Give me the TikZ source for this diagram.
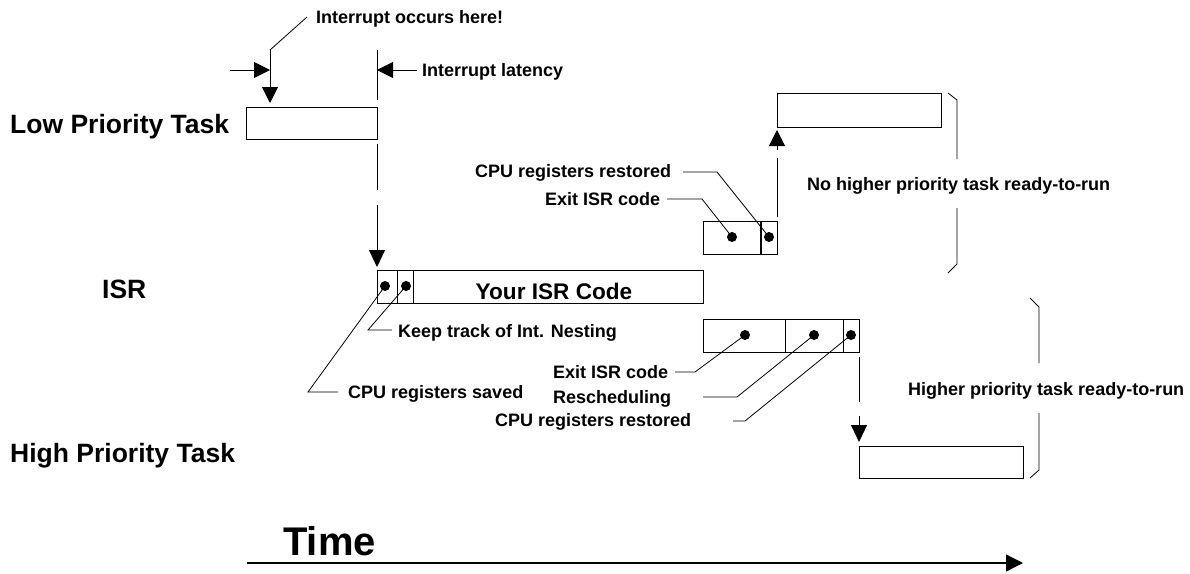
\documentclass[tikz,border=0pt]{standalone}
\usepackage{fontspec}
\setmainfont{Liberation Sans}
\usetikzlibrary{arrows.meta}
\begin{document}
\begin{tikzpicture}[x=1pt,y=-1pt,
  box/.style={draw, line width=1pt, rectangle, inner sep=0pt, anchor=north west},
  dot/.style={circle, fill, inner sep=0pt, minimum size=10pt},
  lbl/.style={anchor=base west, inner sep=0pt, font=\fontsize{18}{20}\selectfont\bfseries},
  big/.style={anchor=base west, inner sep=0pt, font=\fontsize{26.5}{30}\selectfont\bfseries},
  lead/.style={line width=0.8pt},
  ln/.style={line width=1pt},
  arr/.style={-{Triangle[length=16pt,width=16pt]}, line width=1pt}]
\useasboundingbox (0,0) rectangle (1190,573);

% ---------- boxes ----------
\node[box, minimum width=131pt, minimum height=32pt] (low) at (246,107) {};
\node[box, minimum width=326pt, minimum height=33pt] (isr) at (377,270) {};
\node[box, minimum width=74pt, minimum height=33pt] (exitA) at (703,221) {};
\node[box, minimum width=164pt, minimum height=34pt] (lowres) at (777,93) {};
\node[box, minimum width=156pt, minimum height=33pt] (exitB) at (703,319) {};
\node[box, minimum width=164pt, minimum height=32pt] (high) at (859,446) {};

% dividers
\draw[ln] (397,270) -- (397,303);
\draw[ln] (413,270) -- (413,303);
\draw[line width=2pt] (761,221) -- (761,254);
\draw[ln] (785,319) -- (785,352);
\draw[ln] (843,319) -- (843,352);

% ---------- dots ----------
\node[dot] (d1) at (385,286) {};
\node[dot] (d2) at (406,286) {};
\node[dot] (d3) at (732,237) {};
\node[dot] (d4) at (769,237) {};
\node[dot] (d5) at (745,335) {};
\node[dot] (d6) at (814,335) {};
\node[dot] (d7) at (851,335) {};

% ---------- big labels ----------
\node[big] (tlow) at (10,133) {Low Priority Task};
\node[big] (tisr) at (102,298) {ISR};
\node[big] (thigh) at (10,462) {High Priority Task};
\node[anchor=base, inner sep=0pt, font=\fontsize{22.6}{26}\selectfont\bfseries] (code) at (554,299) {Your ISR Code};
\node[anchor=base west, inner sep=0pt, font=\fontsize{40}{44}\selectfont\bfseries] (ttime) at (283,555) {Time};

% ---------- small labels ----------
\node[lbl] (occ) at (316,23) {Interrupt occurs here!};
\node[lbl] (lat) at (422,76) {Interrupt latency};
\node[lbl] (keep) at (398,337.5) {Keep track of Int. Nesting};
\node[lbl] (saved) at (348,398.5) {CPU registers saved};
\node[lbl] (restA) at (475,177) {CPU registers restored};
\node[lbl] (exA) at (545,205.5) {Exit ISR code};
\node[lbl] (nohi) at (807,190.5) {No higher priority task ready-to-run};
\node[lbl] (exB) at (553,378.5) {Exit ISR code};
\node[lbl] (resch) at (553,403) {Rescheduling};
\node[lbl] (restB) at (495,426.5) {CPU registers restored};
\node[lbl] (hi) at (908,395.5) {Higher priority task ready-to-run};

% ---------- interrupt arrows ----------
\coordinate (occS) at (307,17);
\coordinate (occK) at (270,50);
\coordinate (occT) at (270,103);
\draw[lead] (occS) -- (occK);
\draw[arr] (occK) -- (occT);
\coordinate (inL) at (230,70);
\coordinate (inR) at (270,70);
\draw[arr] (inL) -- (inR);
\coordinate (latT) at (377,50);
\coordinate (latB) at (377,100);
\draw[ln] (latT) -- (latB);
\coordinate (latS) at (417,70);
\coordinate (latE) at (377,70);
\draw[arr] (latS) -- (latE);

% ---------- flow lines ----------
\coordinate (f1a) at (377,144);
\coordinate (f1b) at (377,190);
\coordinate (f1c) at (377,205);
\coordinate (f1d) at (377,267);
\draw[ln] (f1a) -- (f1b);
\draw[arr,-{Triangle[length=17pt,width=16pt]}] (f1c) -- (f1d);

\coordinate (f2a) at (777,217);
\coordinate (f2b) at (777,158);
\coordinate (f2c) at (777,150);
\coordinate (f2d) at (777,130);
\draw[ln] (f2a) -- (f2b);
\draw[arr] (f2c) -- (f2d);

\coordinate (f3a) at (859,357);
\coordinate (f3b) at (859,402);
\coordinate (f3c) at (859,416);
\coordinate (f3d) at (859,442);
\draw[ln] (f3a) -- (f3b);
\draw[arr,-{Triangle[length=17pt,width=16pt]}] (f3c) -- (f3d);

% ---------- time axis ----------
\coordinate (tS) at (247,563);
\coordinate (tE) at (1023,563);
\draw[line width=1.2pt,-{Triangle[length=17pt,width=17pt]}] (tS) -- (tE);

% ---------- leaders ----------
\coordinate (l1a) at (338,392); \coordinate (l1b) at (308,392);
\draw[lead] (l1a) -- (l1b) -- (d1.center);
\coordinate (l2a) at (392,330); \coordinate (l2b) at (368,330);
\draw[lead] (l2a) -- (l2b) -- (d2.center);
\coordinate (l3a) at (683,172); \coordinate (l3b) at (717,172);
\draw[lead] (l3a) -- (l3b) -- (d4.center);
\coordinate (l4a) at (667,199); \coordinate (l4b) at (702,199);
\draw[lead] (l4a) -- (l4b) -- (d3.center);
\coordinate (l5a) at (675,372); \coordinate (l5b) at (695,372);
\draw[lead] (l5a) -- (l5b) -- (d5.center);
\coordinate (l6a) at (703,397); \coordinate (l6b) at (737,397);
\draw[lead] (l6a) -- (l6b) -- (d6.center);
\coordinate (l7a) at (733,421); \coordinate (l7b) at (745,421);
\draw[lead] (l7a) -- (l7b) -- (d7.center);

% ---------- brackets ----------
\coordinate (b1a) at (948,93); \coordinate (b1b) at (957,100); \coordinate (b1c) at (957,159);
\coordinate (b1d) at (957,208); \coordinate (b1e) at (957,264); \coordinate (b1f) at (948,273);
\draw[lead] (b1a) -- (b1b) -- (b1c);
\draw[lead] (b1d) -- (b1e) -- (b1f);
\coordinate (b2a) at (1030,298); \coordinate (b2b) at (1039,307); \coordinate (b2c) at (1039,363);
\coordinate (b2d) at (1039,413); \coordinate (b2e) at (1039,470); \coordinate (b2f) at (1030,478);
\draw[lead] (b2a) -- (b2b) -- (b2c);
\draw[lead] (b2d) -- (b2e) -- (b2f);
\end{tikzpicture}
\end{document}
